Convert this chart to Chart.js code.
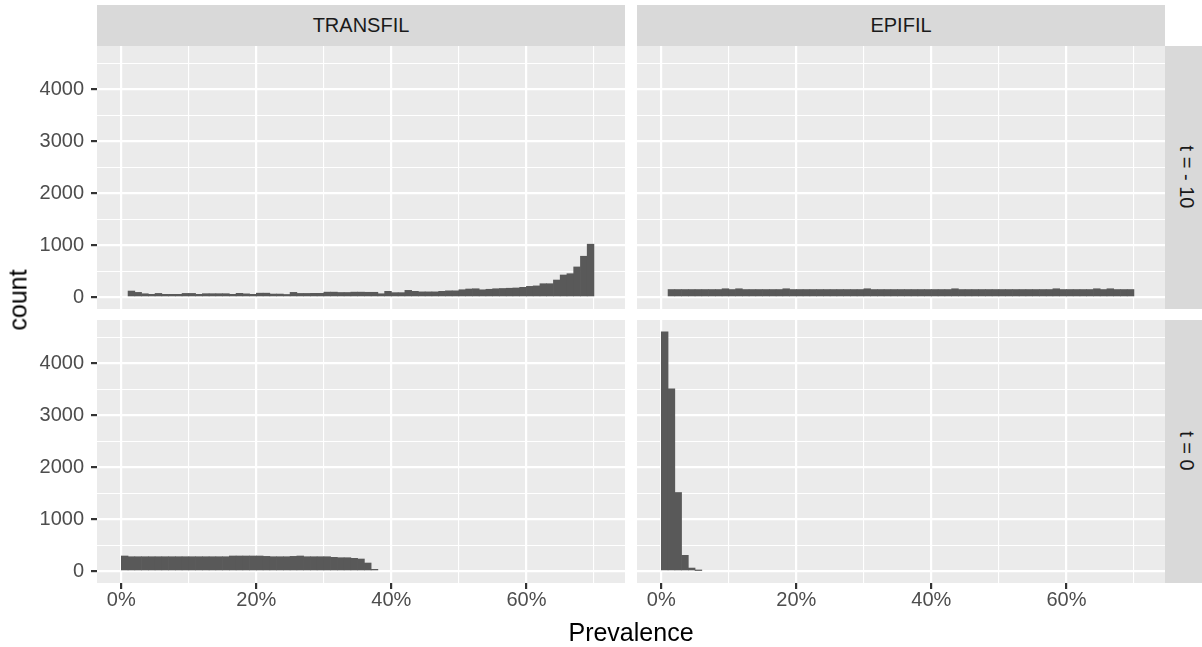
<!DOCTYPE html>
<html>
<head>
<meta charset="utf-8">
<script src="https://cdn.jsdelivr.net/npm/chart.js@4.4.1/dist/chart.umd.min.js"></script>
<style>
html,body{margin:0;padding:0;background:#ffffff;width:1202px;height:647px;overflow:hidden;font-family:"Liberation Sans",Arial,sans-serif;}
.abs{position:absolute;}
canvas{display:block;}
.stripTop{position:absolute;background:#D9D9D9;color:#1A1A1A;font-size:20px;display:flex;align-items:center;justify-content:center;}
.stripRight{position:absolute;background:#D9D9D9;}
.rotText{position:absolute;white-space:nowrap;color:#1A1A1A;font-size:20px;transform:translate(-50%,-50%) rotate(90deg);}
.title{position:absolute;white-space:nowrap;color:#000000;font-size:25px;}
</style>
</head>
<body>
<!-- facet strips -->
<div class="stripTop" style="left:97px;top:5px;width:528px;height:41px;">TRANSFIL</div>
<div class="stripTop" style="left:637px;top:5px;width:528px;height:41px;">EPIFIL</div>
<div class="stripRight" style="left:1165px;top:46px;width:37px;height:263px;"><div class="rotText" style="left:21px;top:131px;">t = - 10</div></div>
<div class="stripRight" style="left:1165px;top:320px;width:37px;height:263px;"><div class="rotText" style="left:21px;top:131px;">t = 0</div></div>

<!-- panels -->
<div class="abs" style="left:0px;top:46px;"><canvas id="pTL" width="625" height="263"></canvas></div>
<div class="abs" style="left:637px;top:46px;"><canvas id="pTR" width="528" height="263"></canvas></div>
<div class="abs" style="left:0px;top:320px;"><canvas id="pBL" width="625" height="327"></canvas></div>
<div class="abs" style="left:637px;top:320px;"><canvas id="pBR" width="528" height="327"></canvas></div>

<!-- axis titles -->
<div class="title" style="left:18px;top:300px;transform:translate(-50%,-50%) rotate(-90deg);">count</div>
<div class="title" style="left:631px;top:632px;transform:translate(-50%,-50%);">Prevalence</div>

<script>
// ---------- data ----------
const binWidth = 1; // percent
const binStarts = [0,1,2,3,4,5,6,7,8,9,10,11,12,13,14,15,16,17,18,19,20,21,22,23,24,25,26,27,28,29,30,31,32,33,34,35,36,37,38,39,40,41,42,43,44,45,46,47,48,49,50,51,52,53,54,55,56,57,58,59,60,61,62,63,64,65,66,67,68,69];

const models = ["TRANSFIL", "EPIFIL"];
const times = ["t = - 10", "t = 0"];

// TRANSFIL, t = -10
const transfilPre = [0,116,90,64,52,70,52,52,52,70,70,52,65,65,65,65,52,72,62,52,75,75,58,58,50,90,70,70,72,72,95,95,88,88,95,95,92,92,64,110,85,85,129,110,100,100,100,110,120,120,141,155,160,140,150,160,165,170,175,187,206,215,257,257,328,425,450,580,786,1018];
// EPIFIL, t = -10
const epifilPre = [0,145,145,145,145,145,145,145,145,160,145,160,145,145,145,145,145,145,160,145,145,145,145,145,145,145,145,145,145,145,160,145,145,145,145,145,145,145,145,145,145,145,145,160,145,145,145,145,145,145,145,145,145,145,145,145,145,145,160,145,145,145,145,145,160,145,160,145,145,145];
// TRANSFIL, t = 0
const transfilPost = [290,276,276,276,276,276,276,276,276,276,276,276,276,276,276,276,290,290,290,290,290,283,276,276,276,283,290,276,276,276,276,264,257,257,245,232,155,33];
// EPIFIL, t = 0
const epifilPost = [4605,3511,1513,303,58,10];

// tick values / labels
const xMajorTicks = [0, 20, 40, 60];
const xTickLabels = ["0%", "20%", "40%", "60%"];
const xMinorTicks = [10, 30, 50, 70];
const yMajorTicks = [0, 1000, 2000, 3000, 4000];
const yTickLabels = ["0", "1000", "2000", "3000", "4000"];
const yMinorTicks = [500, 1500, 2500, 3500, 4500];

// ---------- scales ----------
const X_MIN = -3.6, X_MAX = 74.6;
const Y_MIN = -230, Y_MAX = 4835;

const FONT = '"Liberation Sans", Arial, sans-serif';

const panelBg = {
  id: 'panelBg',
  beforeDraw(chart) {
    const {ctx, chartArea: a} = chart;
    ctx.save();
    ctx.fillStyle = '#EBEBEB';
    ctx.fillRect(a.left, a.top, a.right - a.left, a.bottom - a.top);
    ctx.restore();
  }
};

function tickList(major, minor) {
  return major.concat(minor).sort((a, b) => a - b).map(v => ({value: v}));
}
function isMajor(list, v) { return list.indexOf(v) >= 0; }
function labelFor(list, labels, v) {
  const i = list.indexOf(v);
  return i >= 0 ? labels[i] : '';
}

function makePanel(id, counts, showX, showY) {
  const data = [];
  counts.forEach((c, i) => {
    if (c > 0) data.push({x: binStarts[i] + binWidth / 2, y: c});
  });
  new Chart(document.getElementById(id), {
    type: 'bar',
    data: {
      datasets: [{
        data: data,
        backgroundColor: '#595959',
        borderWidth: 0,
        barPercentage: 1,
        categoryPercentage: 1
      }]
    },
    options: {
      responsive: false,
      animation: false,
      events: [],
      layout: {padding: 0, autoPadding: false},
      plugins: {legend: {display: false}, tooltip: {enabled: false}},
      scales: {
        x: {
          type: 'linear',
          min: X_MIN, max: X_MAX,
          offset: false,
          border: {display: false},
          grid: {
            offset: false,
            color: '#FFFFFF',
            lineWidth: c => (c.tick && isMajor(xMajorTicks, c.tick.value)) ? 2.2 : 1.1,
            drawTicks: showX,
            tickLength: 6,
            tickWidth: 2.2,
            tickColor: c => (c.tick && isMajor(xMajorTicks, c.tick.value)) ? '#333333' : 'rgba(0,0,0,0)'
          },
          ticks: {
            display: showX,
            autoSkip: false,
            maxRotation: 0,
            minRotation: 0,
            padding: 0,
            color: '#4D4D4D',
            font: {family: FONT, size: 20, lineHeight: 1.1},
            callback: v => labelFor(xMajorTicks, xTickLabels, v)
          },
          afterBuildTicks: s => { s.ticks = tickList(xMajorTicks, xMinorTicks); },
          afterFit: s => { s.height = showX ? 64 : 0; s.paddingLeft = 0; s.paddingRight = 0; }
        },
        y: {
          type: 'linear',
          min: Y_MIN, max: Y_MAX,
          border: {display: false},
          grid: {
            color: '#FFFFFF',
            lineWidth: c => (c.tick && isMajor(yMajorTicks, c.tick.value)) ? 2.2 : 1.1,
            drawTicks: showY,
            tickLength: 6,
            tickWidth: 2.2,
            tickColor: c => (c.tick && isMajor(yMajorTicks, c.tick.value)) ? '#333333' : 'rgba(0,0,0,0)'
          },
          ticks: {
            display: showY,
            autoSkip: false,
            padding: 7,
            color: '#4D4D4D',
            font: {family: FONT, size: 20, lineHeight: 1.2},
            callback: v => labelFor(yMajorTicks, yTickLabels, v)
          },
          afterBuildTicks: s => { s.ticks = tickList(yMajorTicks, yMinorTicks); },
          afterFit: s => { s.width = showY ? 97 : 0; s.paddingTop = 0; s.paddingBottom = 0; }
        }
      }
    },
    plugins: [panelBg]
  });
}

makePanel('pTL', transfilPre, false, true);
makePanel('pTR', epifilPre, false, false);
makePanel('pBL', transfilPost, true, true);
makePanel('pBR', epifilPost, true, false);
</script>
</body>
</html>
